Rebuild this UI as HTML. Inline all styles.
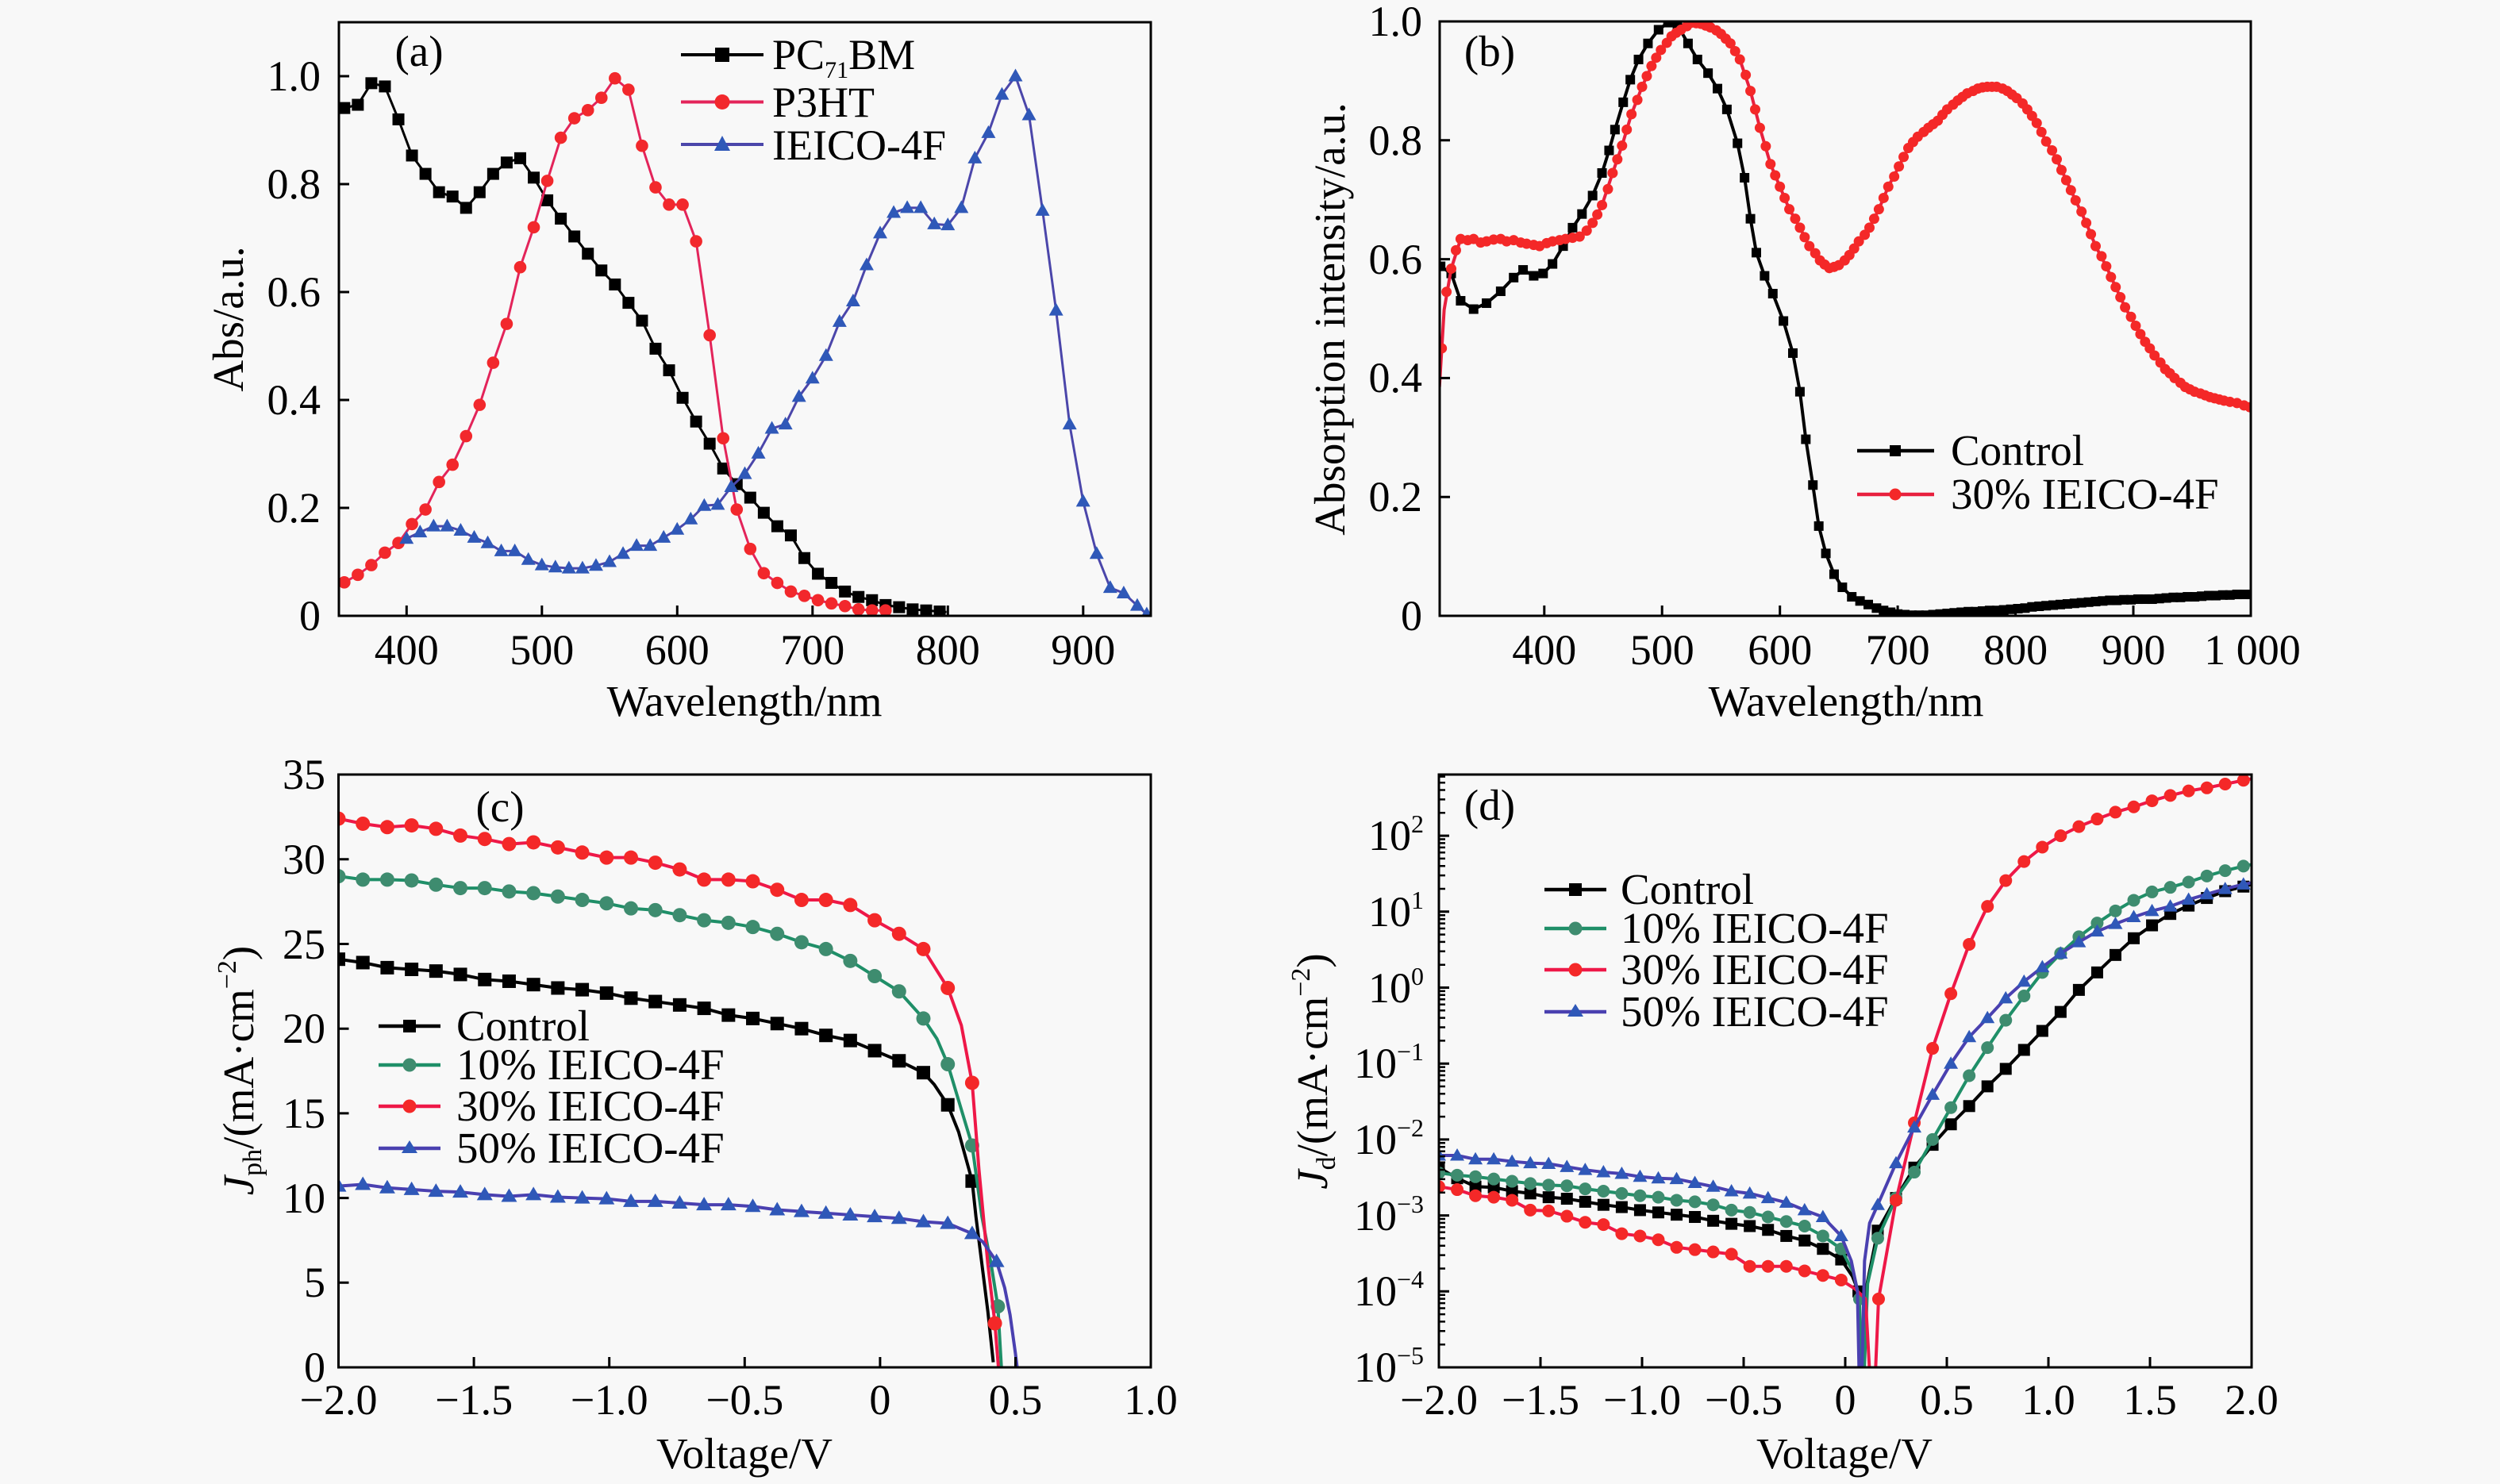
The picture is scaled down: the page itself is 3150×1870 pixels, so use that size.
<!DOCTYPE html>
<html><head><meta charset="utf-8">
<style>
html,body{margin:0;padding:0;background:#f8f8f8}
svg{display:block}
text{font-family:"Liberation Serif","Times New Roman",serif;fill:#000}
</style></head>
<body>
<svg xmlns="http://www.w3.org/2000/svg" width="3150" height="1870" viewBox="0 0 3150 1870">
<rect x="0" y="0" width="3150" height="1870" fill="#f8f8f8"/>
<defs>
  <marker id="aSq" viewBox="-10 -10 20 20" markerWidth="11.7302" markerHeight="0.0294118" refX="0" refY="0" markerUnits="userSpaceOnUse" preserveAspectRatio="none" overflow="visible"><rect x="-7.5" y="-7.5" width="15" height="15" fill="#000"/></marker>
  <marker id="aCi" viewBox="-10 -10 20 20" markerWidth="11.7302" markerHeight="0.0294118" refX="0" refY="0" markerUnits="userSpaceOnUse" preserveAspectRatio="none" overflow="visible"><circle r="7.8" fill="#f2282c"/></marker>
  <marker id="aTr" viewBox="-10 -10 20 20" markerWidth="11.7302" markerHeight="0.0294118" refX="0" refY="0" markerUnits="userSpaceOnUse" preserveAspectRatio="none" overflow="visible"><polygon points="0,9.5 -9,-6.5 9,-6.5" fill="#2f58b8"/></marker>
  <marker id="bSq" viewBox="-8 -8 16 16" markerWidth="10.77877" markerHeight="0.0213618" refX="0" refY="0" markerUnits="userSpaceOnUse" preserveAspectRatio="none" overflow="visible"><rect x="-6" y="-6" width="12" height="12" fill="#000"/></marker>
  <marker id="bCi" viewBox="-8 -8 16 16" markerWidth="10.77877" markerHeight="0.0213618" refX="0" refY="0" markerUnits="userSpaceOnUse" preserveAspectRatio="none" overflow="visible"><circle r="6.5" fill="#f42828"/></marker>
  <marker id="cSq" viewBox="-11 -11 22 22" markerWidth="0.0644783" markerHeight="1.0309278" refX="0" refY="0" markerUnits="userSpaceOnUse" preserveAspectRatio="none" overflow="visible"><rect x="-8.5" y="-8.5" width="17" height="17" fill="#000"/></marker>
  <marker id="cG" viewBox="-11 -11 22 22" markerWidth="0.0644783" markerHeight="1.0309278" refX="0" refY="0" markerUnits="userSpaceOnUse" preserveAspectRatio="none" overflow="visible"><circle r="9" fill="#3e8c6f"/></marker>
  <marker id="cR" viewBox="-11 -11 22 22" markerWidth="0.0644783" markerHeight="1.0309278" refX="0" refY="0" markerUnits="userSpaceOnUse" preserveAspectRatio="none" overflow="visible"><circle r="9" fill="#f42828"/></marker>
  <marker id="cTr" viewBox="-11 -11 22 22" markerWidth="0.0644783" markerHeight="1.0309278" refX="0" refY="0" markerUnits="userSpaceOnUse" preserveAspectRatio="none" overflow="visible"><polygon points="0,10 -10,-7 10,-7" fill="#2f58b8"/></marker>
  <marker id="dSq" viewBox="-10 -10 20 20" markerWidth="0.078125" markerHeight="0.2089864" refX="0" refY="0" markerUnits="userSpaceOnUse" preserveAspectRatio="none" overflow="visible"><rect x="-7.5" y="-7.5" width="15" height="15" fill="#000"/></marker>
  <marker id="dG" viewBox="-10 -10 20 20" markerWidth="0.078125" markerHeight="0.2089864" refX="0" refY="0" markerUnits="userSpaceOnUse" preserveAspectRatio="none" overflow="visible"><circle r="8" fill="#3e8c6f"/></marker>
  <marker id="dR" viewBox="-10 -10 20 20" markerWidth="0.078125" markerHeight="0.2089864" refX="0" refY="0" markerUnits="userSpaceOnUse" preserveAspectRatio="none" overflow="visible"><circle r="8" fill="#f42828"/></marker>
  <marker id="dTr" viewBox="-10 -10 20 20" markerWidth="0.078125" markerHeight="0.2089864" refX="0" refY="0" markerUnits="userSpaceOnUse" preserveAspectRatio="none" overflow="visible"><polygon points="0,9 -9,-6.5 9,-6.5" fill="#2f58b8"/></marker>

  <clipPath id="clipA"><rect x="427" y="28" width="1023" height="748"/></clipPath>
  <clipPath id="clipB"><rect x="1814" y="27" width="1022" height="749"/></clipPath>
  <clipPath id="clipC"><rect x="426.5" y="976" width="1023.5" height="747"/></clipPath>
  <clipPath id="clipD"><rect x="1813" y="976" width="1024" height="747"/></clipPath>

  <path id="minor" d="M0,-28.8h8M0,-45.7h8M0,-57.6h8M0,-66.9h8M0,-74.5h8M0,-80.9h8M0,-86.4h8M0,-91.3h8" stroke="#000" stroke-width="2.5" fill="none"/>
</defs>

<!-- ================= PANEL A ================= -->
<g clip-path="url(#clipA)">
 <g transform="translate(427,776) scale(1.705,-680) translate(-350,0)">
  <polyline vector-effect="non-scaling-stroke" fill="none" stroke="#000" stroke-width="3" stroke-linejoin="round"
   points="350,0.94 354,0.941 364,0.947 374,0.987 384,0.981 394,0.92 404,0.853 414,0.819 424,0.785 434,0.777 444,0.756 454,0.785 464,0.819 474,0.84 484,0.848 494,0.812 504,0.77 514,0.736 524,0.703 534,0.671 544,0.64 554,0.614 564,0.58 574,0.547 584,0.495 594,0.455 604,0.404 614,0.36 624,0.319 634,0.273 644,0.244 654,0.219 664,0.191 674,0.166 684,0.149 694,0.107 704,0.078 714,0.061 724,0.045 734,0.035 744,0.029 754,0.02 764,0.016 774,0.012 784,0.01 794,0.008 799,0.007"/>
  <polyline fill="none" stroke="none" marker-start="url(#aSq)" marker-mid="url(#aSq)" marker-end="url(#aSq)"
   points="354,0.941 364,0.947 374,0.987 384,0.981 394,0.92 404,0.853 414,0.819 424,0.785 434,0.777 444,0.756 454,0.785 464,0.819 474,0.84 484,0.848 494,0.812 504,0.77 514,0.736 524,0.703 534,0.671 544,0.64 554,0.614 564,0.58 574,0.547 584,0.495 594,0.455 604,0.404 614,0.36 624,0.319 634,0.273 644,0.244 654,0.219 664,0.191 674,0.166 684,0.149 694,0.107 704,0.078 714,0.061 724,0.045 734,0.035 744,0.029 754,0.02 764,0.016 774,0.012 784,0.01 794,0.008"/>

  <polyline vector-effect="non-scaling-stroke" fill="none" stroke="#e3245a" stroke-width="3" stroke-linejoin="round"
   points="354,0.062 364,0.076 374,0.094 384,0.117 394,0.135 404,0.17 414,0.197 424,0.248 434,0.28 444,0.333 454,0.391 464,0.469 474,0.541 484,0.646 494,0.72 504,0.806 514,0.886 524,0.922 534,0.937 544,0.96 554,0.996 564,0.975 574,0.871 584,0.794 594,0.762 604,0.762 614,0.694 624,0.52 634,0.329 644,0.197 654,0.124 664,0.079 674,0.061 684,0.045 694,0.037 704,0.029 714,0.023 724,0.018 734,0.012 744,0.01 754,0.01"/>
  <polyline fill="none" stroke="none" marker-start="url(#aCi)" marker-mid="url(#aCi)" marker-end="url(#aCi)"
   points="354,0.062 364,0.076 374,0.094 384,0.117 394,0.135 404,0.17 414,0.197 424,0.248 434,0.28 444,0.333 454,0.391 464,0.469 474,0.541 484,0.646 494,0.72 504,0.806 514,0.886 524,0.922 534,0.937 544,0.96 554,0.996 564,0.975 574,0.871 584,0.794 594,0.762 604,0.762 614,0.694 624,0.52 634,0.329 644,0.197 654,0.124 664,0.079 674,0.061 684,0.045 694,0.037 704,0.029 714,0.023 724,0.018 734,0.012 744,0.01 754,0.01"/>

  <polyline vector-effect="non-scaling-stroke" fill="none" stroke="#4b46aa" stroke-width="3" stroke-linejoin="round"
   points="400,0.143 410,0.155 420,0.166 430,0.166 440,0.158 450,0.145 460,0.135 470,0.12 480,0.12 490,0.104 500,0.094 510,0.09 520,0.088 530,0.088 540,0.093 550,0.1 560,0.115 570,0.13 580,0.13 590,0.145 600,0.16 610,0.179 620,0.204 630,0.206 640,0.239 650,0.263 660,0.301 670,0.347 680,0.355 690,0.406 700,0.44 710,0.482 720,0.545 730,0.583 740,0.65 750,0.709 760,0.747 770,0.756 780,0.756 790,0.726 800,0.724 810,0.756 820,0.848 830,0.895 840,0.966 850,1.0 860,0.928 870,0.751 880,0.566 890,0.355 900,0.212 910,0.115 920,0.052 930,0.042 940,0.019 947,0.003"/>
  <polyline fill="none" stroke="none" marker-start="url(#aTr)" marker-mid="url(#aTr)" marker-end="url(#aTr)"
   points="400,0.143 410,0.155 420,0.166 430,0.166 440,0.158 450,0.145 460,0.135 470,0.12 480,0.12 490,0.104 500,0.094 510,0.09 520,0.088 530,0.088 540,0.093 550,0.1 560,0.115 570,0.13 580,0.13 590,0.145 600,0.16 610,0.179 620,0.204 630,0.206 640,0.239 650,0.263 660,0.301 670,0.347 680,0.355 690,0.406 700,0.44 710,0.482 720,0.545 730,0.583 740,0.65 750,0.709 760,0.747 770,0.756 780,0.756 790,0.726 800,0.724 810,0.756 820,0.848 830,0.895 840,0.966 850,1.0 860,0.928 870,0.751 880,0.566 890,0.355 900,0.212 910,0.115 920,0.052 930,0.042 940,0.019 947,0.003"/>
 </g>
</g>
<rect x="427" y="28" width="1023" height="748" fill="none" stroke="#000" stroke-width="3"/>
<path d="M427,640h13M427,504h13M427,368h13M427,232h13M427,96h13M512.3,776v-13M682.8,776v-13M853.3,776v-13M1023.8,776v-13M1194.3,776v-13M1364.8,776v-13" stroke="#000" stroke-width="3" fill="none"/>
<g font-size="54" text-anchor="end">
 <text x="404" y="794">0</text><text x="404" y="658">0.2</text><text x="404" y="522">0.4</text><text x="404" y="386">0.6</text><text x="404" y="250">0.8</text><text x="404" y="114">1.0</text>
</g>
<g font-size="54" text-anchor="middle">
 <text x="512.3" y="837">400</text><text x="682.8" y="837">500</text><text x="853.3" y="837">600</text><text x="1023.8" y="837">700</text><text x="1194.3" y="837">800</text><text x="1364.8" y="837">900</text>
</g>
<text x="938" y="902" font-size="55" text-anchor="middle">Wavelength/nm</text>
<text transform="translate(306,402) rotate(-90)" font-size="55" text-anchor="middle">Abs/a.u.</text>
<text x="528" y="83" font-size="55" text-anchor="middle">(a)</text>
<line x1="858" y1="69" x2="962" y2="69" stroke="#000" stroke-width="4"/>
<rect x="901" y="60" width="18" height="18" fill="#000"/>
<line x1="858" y1="128.5" x2="962" y2="128.5" stroke="#e3245a" stroke-width="4"/>
<circle cx="910" cy="128.5" r="9.5" fill="#f2282c"/>
<line x1="858" y1="182" x2="962" y2="182" stroke="#4b46aa" stroke-width="4"/>
<polygon points="910,171 920,190 900,190" fill="#2f58b8"/>
<text x="973" y="87" font-size="54">PC<tspan font-size="30" dy="11">71</tspan><tspan dy="-11">BM</tspan></text>
<text x="973" y="147" font-size="54">P3HT</text>
<text x="973" y="201" font-size="54">IEICO-4F</text>

<!-- ================= PANEL B ================= -->
<g clip-path="url(#clipB)">
 <g transform="translate(1945.8,776) scale(1.4844,-749) translate(-400,0)">
  <polyline vector-effect="non-scaling-stroke" fill="none" stroke="#000" stroke-width="4" stroke-linejoin="round"
   points="311,0.59 312,0.588 321,0.576 329,0.53 340,0.516 351,0.526 363,0.546 374,0.569 382,0.582 391,0.572 399,0.576 407,0.592 416,0.622 424,0.653 432,0.676 441,0.707 449,0.745 455,0.783 460,0.818 467,0.864 473,0.902 480,0.936 488,0.963 497,0.986 505,0.998 513,0.994 522,0.963 530,0.936 539,0.913 547,0.887 555,0.852 564,0.795 570,0.737 575,0.668 580,0.611 587,0.572 594,0.542 603,0.496 611,0.442 617,0.377 622,0.297 628,0.22 633,0.151 639,0.105 646,0.07 653,0.048 661,0.032 668,0.025 675,0.019 682,0.013 688,0.009 694,0.006 700,0.003 706,0.002 712,0.001 718,0.001 724,0.001 730,0.002 736,0.003 742,0.004 748,0.005 754,0.006 760,0.007 766,0.007 772,0.008 778,0.009 784,0.009 790,0.01 796,0.011 802,0.012 808,0.013 814,0.015 820,0.016 826,0.017 832,0.018 838,0.019 844,0.02 850,0.021 856,0.022 862,0.023 868,0.024 874,0.025 880,0.026 886,0.026 892,0.027 898,0.027 904,0.028 910,0.028 916,0.028 922,0.029 928,0.03 934,0.031 940,0.031 946,0.032 952,0.032 958,0.033 964,0.034 970,0.034 976,0.035 982,0.035 988,0.036 994,0.036 1000,0.036"/>
  <polyline fill="none" stroke="none" marker-start="url(#bSq)" marker-mid="url(#bSq)" marker-end="url(#bSq)"
   points="312,0.588 321,0.576 329,0.53 340,0.516 351,0.526 363,0.546 374,0.569 382,0.582 391,0.572 399,0.576 407,0.592 416,0.622 424,0.653 432,0.676 441,0.707 449,0.745 455,0.783 460,0.818 467,0.864 473,0.902 480,0.936 488,0.963 497,0.986 505,0.998 513,0.994 522,0.963 530,0.936 539,0.913 547,0.887 555,0.852 564,0.795 570,0.737 575,0.668 580,0.611 587,0.572 594,0.542 603,0.496 611,0.442 617,0.377 622,0.297 628,0.22 633,0.151 639,0.105 646,0.07 653,0.048 661,0.032 668,0.025 675,0.019 682,0.013 688,0.009 694,0.006 700,0.003 706,0.002 712,0.001 718,0.001 724,0.001 730,0.002 736,0.003 742,0.004 748,0.005 754,0.006 760,0.007 766,0.007 772,0.008 778,0.009 784,0.009 790,0.01 796,0.011 802,0.012 808,0.013 814,0.015 820,0.016 826,0.017 832,0.018 838,0.019 844,0.02 850,0.021 856,0.022 862,0.023 868,0.024 874,0.025 880,0.026 886,0.026 892,0.027 898,0.027 904,0.028 910,0.028 916,0.028 922,0.029 928,0.03 934,0.031 940,0.031 946,0.032 952,0.032 958,0.033 964,0.034 970,0.034 976,0.035 982,0.035 988,0.036 994,0.036 1000,0.036"/>

  <polyline vector-effect="non-scaling-stroke" fill="none" stroke="#e8203e" stroke-width="4" stroke-linejoin="round"
   points="311,0.385 315,0.515 321,0.584 329,0.634 340,0.634 351,0.63 363,0.634 374,0.632 385,0.626 396,0.622 407,0.63 418,0.634 430,0.638 441,0.661 449,0.691 458,0.745 466,0.791 474,0.844 483,0.89 491,0.925 499,0.952 508,0.975 516,0.986 525,0.998 533,0.996 541,0.99 550,0.979 558,0.963 566,0.936 575,0.883 583,0.821 592,0.76 600,0.722 608,0.684 617,0.653 625,0.622 634,0.598 642,0.585 650,0.59 659,0.607 667,0.63 676,0.653 684,0.684 692,0.722 701,0.756 709,0.787 717,0.806 726,0.821 734,0.833 742,0.852 751,0.867 759,0.879 768,0.887 776,0.89 784,0.89 793,0.883 801,0.871 810,0.852 818,0.829 826,0.798 835,0.768 843,0.733 851,0.699 860,0.661 868,0.622 877,0.588 885,0.553 893,0.519 902,0.488 910,0.461 918,0.438 927,0.415 935,0.4 944,0.385 952,0.377 961,0.371 969,0.366 977,0.362 988,0.358 1000,0.35"/>
  <polyline fill="none" stroke="none" marker-start="url(#bCi)" marker-mid="url(#bCi)" marker-end="url(#bCi)"
   points="313,0.45 317,0.545 321,0.584 325,0.615 329,0.634 335,0.632 340,0.634 346,0.628 351,0.63 357,0.633 363,0.634 368,0.63 374,0.632 380,0.628 385,0.626 391,0.624 396,0.622 402,0.627 407,0.63 413,0.632 418,0.634 424,0.636 430,0.638 436,0.648 441,0.661 445,0.675 449,0.691 454,0.718 458,0.745 462,0.768 466,0.791 470,0.818 474,0.844 479,0.868 483,0.89 487,0.908 491,0.925 495,0.939 499,0.952 504,0.964 508,0.975 512,0.981 516,0.986 521,0.992 525,0.998 529,0.997 533,0.996 537,0.993 541,0.99 546,0.985 550,0.979 554,0.971 558,0.963 562,0.95 566,0.936 571,0.91 575,0.883 579,0.852 583,0.821 588,0.79 592,0.76 596,0.741 600,0.722 604,0.703 608,0.684 613,0.668 617,0.653 621,0.637 625,0.622 630,0.61 634,0.598 638,0.591 642,0.585 646,0.587 650,0.59 655,0.598 659,0.607 663,0.618 667,0.63 672,0.641 676,0.653 680,0.668 684,0.684 688,0.703 692,0.722 697,0.739 701,0.756 705,0.772 709,0.787 713,0.797 717,0.806 722,0.814 726,0.821 730,0.827 734,0.833 738,0.843 742,0.852 747,0.86 751,0.867 755,0.873 759,0.879 764,0.883 768,0.887 772,0.889 776,0.89 780,0.89 784,0.89 789,0.887 793,0.883 797,0.877 801,0.871 806,0.862 810,0.852 814,0.841 818,0.829 822,0.814 826,0.798 831,0.783 835,0.768 839,0.75 843,0.733 847,0.716 851,0.699 856,0.68 860,0.661 864,0.642 868,0.622 873,0.605 877,0.588 881,0.57 885,0.553 889,0.536 893,0.519 898,0.503 902,0.488 906,0.474 910,0.461 914,0.45 918,0.438 923,0.426 927,0.415 931,0.408 935,0.4 940,0.392 944,0.385 948,0.381 952,0.377 957,0.374 961,0.371 965,0.368 969,0.366 973,0.364 977,0.362 982,0.36 988,0.358 994,0.354 999,0.351"/>
 </g>
</g>
<rect x="1814" y="27" width="1022" height="749" fill="none" stroke="#000" stroke-width="3"/>
<path d="M1814,626.2h13M1814,476.4h13M1814,326.6h13M1814,176.8h13M1945.8,776v-13M2094.2,776v-13M2242.7,776v-13M2391.1,776v-13M2539.6,776v-13M2688,776v-13" stroke="#000" stroke-width="3" fill="none"/>
<g font-size="54" text-anchor="end">
 <text x="1792" y="794">0</text><text x="1792" y="644">0.2</text><text x="1792" y="494">0.4</text><text x="1792" y="345">0.6</text><text x="1792" y="195">0.8</text><text x="1792" y="45">1.0</text>
</g>
<g font-size="54" text-anchor="middle">
 <text x="1945.8" y="837">400</text><text x="2094.2" y="837">500</text><text x="2242.7" y="837">600</text><text x="2391.1" y="837">700</text><text x="2539.6" y="837">800</text><text x="2688" y="837">900</text><text x="2838" y="837">1 000</text>
</g>
<text x="2326" y="902" font-size="55" text-anchor="middle">Wavelength/nm</text>
<text transform="translate(1694,402) rotate(-90)" font-size="55" text-anchor="middle">Absorption intensity/a.u.</text>
<text x="1877" y="83" font-size="55" text-anchor="middle">(b)</text>
<line x1="2340" y1="568" x2="2437" y2="568" stroke="#000" stroke-width="4.5"/>
<rect x="2381" y="561" width="14" height="14" fill="#000"/>
<line x1="2340" y1="623" x2="2437" y2="623" stroke="#e8203e" stroke-width="4.5"/>
<circle cx="2388" cy="623" r="7.5" fill="#f42828"/>
<text x="2458" y="586" font-size="55">Control</text>
<text x="2458" y="641" font-size="55">30% IEICO-4F</text>

<!-- ================= PANEL C ================= -->
<g clip-path="url(#clipC)">
 <g transform="translate(426.5,1723) scale(341.2,-21.34) translate(2,0)">
  <polyline vector-effect="non-scaling-stroke" fill="none" stroke="#000" stroke-width="4" stroke-linejoin="round"
   points="-2,24.1 -1.91,23.9 -1.82,23.6 -1.73,23.5 -1.64,23.4 -1.55,23.2 -1.46,22.9 -1.37,22.8 -1.28,22.6 -1.19,22.4 -1.1,22.3 -1.01,22.1 -0.92,21.8 -0.83,21.6 -0.74,21.4 -0.65,21.2 -0.56,20.8 -0.47,20.6 -0.38,20.3 -0.29,20 -0.2,19.6 -0.11,19.3 -0.02,18.7 0.07,18.1 0.16,17.4 0.2,16.7 0.25,15.5 0.29,13.9 0.34,11 0.354,8.9 0.376,6.1 0.398,3.3 0.418,0.3"/>
  <polyline fill="none" stroke="none" marker-start="url(#cSq)" marker-mid="url(#cSq)" marker-end="url(#cSq)"
   points="-2,24.1 -1.91,23.9 -1.82,23.6 -1.73,23.5 -1.64,23.4 -1.55,23.2 -1.46,22.9 -1.37,22.8 -1.28,22.6 -1.19,22.4 -1.1,22.3 -1.01,22.1 -0.92,21.8 -0.83,21.6 -0.74,21.4 -0.65,21.2 -0.56,20.8 -0.47,20.6 -0.38,20.3 -0.29,20 -0.2,19.6 -0.11,19.3 -0.02,18.7 0.07,18.1 0.16,17.4 0.25,15.5 0.34,11"/>

  <polyline vector-effect="non-scaling-stroke" fill="none" stroke="#1f8f68" stroke-width="4" stroke-linejoin="round"
   points="-2,29 -1.91,28.8 -1.82,28.8 -1.73,28.75 -1.64,28.5 -1.55,28.3 -1.46,28.3 -1.37,28.1 -1.28,28 -1.19,27.8 -1.1,27.6 -1.01,27.4 -0.92,27.1 -0.83,27 -0.74,26.7 -0.65,26.4 -0.56,26.25 -0.47,26 -0.38,25.6 -0.29,25.1 -0.2,24.7 -0.11,24 -0.02,23.1 0.07,22.2 0.16,20.6 0.21,19.4 0.25,17.9 0.293,15.6 0.34,13.1 0.376,8.9 0.41,6.1 0.435,3.6 0.448,0 0.452,-0.5"/>
  <polyline fill="none" stroke="none" marker-start="url(#cG)" marker-mid="url(#cG)" marker-end="url(#cG)"
   points="-2,29 -1.91,28.8 -1.82,28.8 -1.73,28.75 -1.64,28.5 -1.55,28.3 -1.46,28.3 -1.37,28.1 -1.28,28 -1.19,27.8 -1.1,27.6 -1.01,27.4 -0.92,27.1 -0.83,27 -0.74,26.7 -0.65,26.4 -0.56,26.25 -0.47,26 -0.38,25.6 -0.29,25.1 -0.2,24.7 -0.11,24 -0.02,23.1 0.07,22.2 0.16,20.6 0.25,17.9 0.34,13.1 0.435,3.6"/>

  <polyline vector-effect="non-scaling-stroke" fill="none" stroke="#ee1848" stroke-width="4" stroke-linejoin="round"
   points="-2,32.4 -1.91,32.1 -1.82,31.9 -1.73,32 -1.64,31.8 -1.55,31.4 -1.46,31.2 -1.37,30.9 -1.28,31 -1.19,30.7 -1.1,30.4 -1.01,30.1 -0.92,30.1 -0.83,29.8 -0.74,29.4 -0.65,28.8 -0.56,28.8 -0.47,28.7 -0.38,28.2 -0.29,27.6 -0.2,27.6 -0.11,27.3 -0.02,26.4 0.07,25.6 0.16,24.7 0.25,22.4 0.3,20.2 0.34,16.8 0.365,11.7 0.398,6.1 0.424,2.6 0.437,0 0.44,-0.5"/>
  <polyline fill="none" stroke="none" marker-start="url(#cR)" marker-mid="url(#cR)" marker-end="url(#cR)"
   points="-2,32.4 -1.91,32.1 -1.82,31.9 -1.73,32 -1.64,31.8 -1.55,31.4 -1.46,31.2 -1.37,30.9 -1.28,31 -1.19,30.7 -1.1,30.4 -1.01,30.1 -0.92,30.1 -0.83,29.8 -0.74,29.4 -0.65,28.8 -0.56,28.8 -0.47,28.7 -0.38,28.2 -0.29,27.6 -0.2,27.6 -0.11,27.3 -0.02,26.4 0.07,25.6 0.16,24.7 0.25,22.4 0.34,16.8 0.424,2.6"/>

  <polyline vector-effect="non-scaling-stroke" fill="none" stroke="#4a40b0" stroke-width="4" stroke-linejoin="round"
   points="-2,10.7 -1.91,10.8 -1.82,10.6 -1.73,10.5 -1.64,10.4 -1.55,10.35 -1.46,10.2 -1.37,10.1 -1.28,10.2 -1.19,10.05 -1.1,10 -1.01,9.95 -0.92,9.8 -0.83,9.8 -0.74,9.7 -0.65,9.6 -0.56,9.6 -0.47,9.5 -0.38,9.3 -0.29,9.2 -0.2,9.1 -0.11,9 -0.02,8.9 0.07,8.8 0.16,8.6 0.25,8.5 0.34,7.9 0.38,7.4 0.43,6.25 0.46,4.7 0.48,3.1 0.5,0.8 0.51,-0.5"/>
  <polyline fill="none" stroke="none" marker-start="url(#cTr)" marker-mid="url(#cTr)" marker-end="url(#cTr)"
   points="-2,10.7 -1.91,10.8 -1.82,10.6 -1.73,10.5 -1.64,10.4 -1.55,10.35 -1.46,10.2 -1.37,10.1 -1.28,10.2 -1.19,10.05 -1.1,10 -1.01,9.95 -0.92,9.8 -0.83,9.8 -0.74,9.7 -0.65,9.6 -0.56,9.6 -0.47,9.5 -0.38,9.3 -0.29,9.2 -0.2,9.1 -0.11,9 -0.02,8.9 0.07,8.8 0.16,8.6 0.25,8.5 0.34,7.9 0.43,6.25"/>
 </g>
</g>
<rect x="426.5" y="976" width="1023.5" height="747" fill="none" stroke="#000" stroke-width="3"/>
<path d="M426.5,1616.3h13M426.5,1509.6h13M426.5,1402.9h13M426.5,1296.2h13M426.5,1189.5h13M426.5,1082.8h13M597.1,1723v-13M767.7,1723v-13M938.3,1723v-13M1108.9,1723v-13M1279.5,1723v-13" stroke="#000" stroke-width="3" fill="none"/>
<g font-size="54" text-anchor="end">
 <text x="410" y="1741">0</text><text x="410" y="1634">5</text><text x="410" y="1528">10</text><text x="410" y="1421">15</text><text x="410" y="1314">20</text><text x="410" y="1208">25</text><text x="410" y="1101">30</text><text x="410" y="994">35</text>
</g>
<g font-size="54" text-anchor="middle">
 <text x="426.5" y="1782">−2.0</text><text x="597.1" y="1782">−1.5</text><text x="767.7" y="1782">−1.0</text><text x="938.3" y="1782">−0.5</text><text x="1108.9" y="1782">0</text><text x="1279.5" y="1782">0.5</text><text x="1450" y="1782">1.0</text>
</g>
<text x="938" y="1850" font-size="55" text-anchor="middle">Voltage/V</text>
<text transform="translate(319,1349) rotate(-90)" font-size="55" text-anchor="middle"><tspan font-style="italic">J</tspan><tspan font-size="34" dy="10">ph</tspan><tspan dy="-10">/(mA·cm</tspan><tspan font-size="34" dy="-22">−2</tspan><tspan dy="22">)</tspan></text>
<text x="630" y="1035" font-size="55" text-anchor="middle">(c)</text>
<line x1="477" y1="1293" x2="555" y2="1293" stroke="#000" stroke-width="4.5"/>
<rect x="508" y="1285" width="16" height="16" fill="#000"/>
<line x1="477" y1="1342" x2="555" y2="1342" stroke="#1f8f68" stroke-width="4.5"/>
<circle cx="516" cy="1342" r="8.5" fill="#3e8c6f"/>
<line x1="477" y1="1394" x2="555" y2="1394" stroke="#ee1848" stroke-width="4.5"/>
<circle cx="516" cy="1394" r="8.5" fill="#f42828"/>
<line x1="477" y1="1447" x2="555" y2="1447" stroke="#4a40b0" stroke-width="4.5"/>
<polygon points="516,1437 526,1453 506,1453" fill="#2f58b8"/>
<g font-size="55">
 <text x="575" y="1311">Control</text>
 <text x="575" y="1360">10% IEICO-4F</text>
 <text x="575" y="1412">30% IEICO-4F</text>
 <text x="575" y="1465">50% IEICO-4F</text>
</g>

<!-- ================= PANEL D ================= -->
<g clip-path="url(#clipD)">
 <g transform="translate(1813,1723) scale(256,-95.7) translate(2,5)">
  <polyline vector-effect="non-scaling-stroke" fill="none" stroke="#000" stroke-width="4" stroke-linejoin="round"
   points="-2,-2.37 -1.91,-2.51 -1.82,-2.62 -1.73,-2.63 -1.64,-2.68 -1.55,-2.71 -1.46,-2.76 -1.37,-2.78 -1.28,-2.82 -1.19,-2.86 -1.1,-2.89 -1.01,-2.93 -0.92,-2.96 -0.83,-2.99 -0.74,-3.02 -0.65,-3.07 -0.56,-3.11 -0.47,-3.14 -0.38,-3.19 -0.29,-3.27 -0.2,-3.33 -0.11,-3.44 -0.02,-3.58 0.035,-3.8 0.065,-4.0 0.075,-5.3 0.085,-5.3 0.1,-4.0 0.16,-3.2 0.25,-2.77 0.34,-2.37 0.43,-2.07 0.52,-1.8 0.61,-1.56 0.7,-1.3 0.79,-1.07 0.88,-0.82 0.97,-0.57 1.06,-0.32 1.15,-0.03 1.24,0.2 1.33,0.43 1.42,0.65 1.51,0.82 1.6,0.97 1.69,1.08 1.78,1.18 1.87,1.27 1.96,1.33 2,1.36"/>
  <polyline fill="none" stroke="none" marker-start="url(#dSq)" marker-mid="url(#dSq)" marker-end="url(#dSq)"
   points="-2,-2.37 -1.91,-2.51 -1.82,-2.62 -1.73,-2.63 -1.64,-2.68 -1.55,-2.71 -1.46,-2.76 -1.37,-2.78 -1.28,-2.82 -1.19,-2.86 -1.1,-2.89 -1.01,-2.93 -0.92,-2.96 -0.83,-2.99 -0.74,-3.02 -0.65,-3.07 -0.56,-3.11 -0.47,-3.14 -0.38,-3.19 -0.29,-3.27 -0.2,-3.33 -0.11,-3.44 -0.02,-3.58 0.065,-4.0 0.16,-3.2 0.25,-2.77 0.34,-2.37 0.43,-2.07 0.52,-1.8 0.61,-1.56 0.7,-1.3 0.79,-1.07 0.88,-0.82 0.97,-0.57 1.06,-0.32 1.15,-0.03 1.24,0.2 1.33,0.43 1.42,0.65 1.51,0.82 1.6,0.97 1.69,1.08 1.78,1.18 1.87,1.27 1.96,1.33"/>

  <polyline vector-effect="non-scaling-stroke" fill="none" stroke="#1f8f68" stroke-width="4" stroke-linejoin="round"
   points="-2,-2.44 -1.91,-2.47 -1.82,-2.49 -1.73,-2.52 -1.64,-2.55 -1.55,-2.58 -1.46,-2.6 -1.37,-2.61 -1.28,-2.65 -1.19,-2.68 -1.1,-2.71 -1.01,-2.74 -0.92,-2.76 -0.83,-2.8 -0.74,-2.82 -0.65,-2.86 -0.56,-2.93 -0.47,-2.96 -0.38,-3.02 -0.29,-3.08 -0.2,-3.14 -0.11,-3.27 -0.02,-3.44 0.04,-3.75 0.07,-4.1 0.08,-5.3 0.09,-5.3 0.11,-3.9 0.16,-3.3 0.25,-2.77 0.34,-2.43 0.43,-2.0 0.52,-1.58 0.61,-1.16 0.7,-0.79 0.79,-0.43 0.88,-0.11 0.97,0.2 1.06,0.45 1.15,0.67 1.24,0.85 1.33,1.01 1.42,1.15 1.51,1.26 1.6,1.32 1.69,1.39 1.78,1.47 1.87,1.54 1.96,1.6 2,1.62"/>
  <polyline fill="none" stroke="none" marker-start="url(#dG)" marker-mid="url(#dG)" marker-end="url(#dG)"
   points="-2,-2.44 -1.91,-2.47 -1.82,-2.49 -1.73,-2.52 -1.64,-2.55 -1.55,-2.58 -1.46,-2.6 -1.37,-2.61 -1.28,-2.65 -1.19,-2.68 -1.1,-2.71 -1.01,-2.74 -0.92,-2.76 -0.83,-2.8 -0.74,-2.82 -0.65,-2.86 -0.56,-2.93 -0.47,-2.96 -0.38,-3.02 -0.29,-3.08 -0.2,-3.14 -0.11,-3.27 -0.02,-3.44 0.07,-4.1 0.16,-3.3 0.25,-2.77 0.34,-2.43 0.43,-2.0 0.52,-1.58 0.61,-1.16 0.7,-0.79 0.79,-0.43 0.88,-0.11 0.97,0.2 1.06,0.45 1.15,0.67 1.24,0.85 1.33,1.01 1.42,1.15 1.51,1.26 1.6,1.32 1.69,1.39 1.78,1.47 1.87,1.54 1.96,1.6"/>

  <polyline vector-effect="non-scaling-stroke" fill="none" stroke="#ee1848" stroke-width="4" stroke-linejoin="round"
   points="-2,-2.62 -1.91,-2.66 -1.82,-2.74 -1.73,-2.76 -1.64,-2.8 -1.55,-2.93 -1.46,-2.94 -1.37,-3.01 -1.28,-3.09 -1.19,-3.12 -1.1,-3.24 -1.01,-3.27 -0.92,-3.32 -0.83,-3.42 -0.74,-3.45 -0.65,-3.48 -0.56,-3.51 -0.47,-3.67 -0.38,-3.67 -0.29,-3.67 -0.2,-3.73 -0.11,-3.79 -0.02,-3.85 0.05,-3.97 0.1,-4.1 0.125,-5.3 0.145,-5.3 0.164,-4.1 0.25,-2.8 0.34,-1.78 0.43,-0.8 0.52,-0.08 0.61,0.57 0.7,1.07 0.79,1.41 0.88,1.66 0.97,1.85 1.06,2.0 1.15,2.12 1.24,2.22 1.33,2.31 1.42,2.38 1.51,2.46 1.6,2.53 1.69,2.59 1.78,2.63 1.87,2.68 1.96,2.73 2,2.75"/>
  <polyline fill="none" stroke="none" marker-start="url(#dR)" marker-mid="url(#dR)" marker-end="url(#dR)"
   points="-2,-2.62 -1.91,-2.66 -1.82,-2.74 -1.73,-2.76 -1.64,-2.8 -1.55,-2.93 -1.46,-2.94 -1.37,-3.01 -1.28,-3.09 -1.19,-3.12 -1.1,-3.24 -1.01,-3.27 -0.92,-3.32 -0.83,-3.42 -0.74,-3.45 -0.65,-3.48 -0.56,-3.51 -0.47,-3.67 -0.38,-3.67 -0.29,-3.67 -0.2,-3.73 -0.11,-3.79 -0.02,-3.85 0.164,-4.1 0.25,-2.8 0.34,-1.78 0.43,-0.8 0.52,-0.08 0.61,0.57 0.7,1.07 0.79,1.41 0.88,1.66 0.97,1.85 1.06,2.0 1.15,2.12 1.24,2.22 1.33,2.31 1.42,2.38 1.51,2.46 1.6,2.53 1.69,2.59 1.78,2.63 1.87,2.68 1.96,2.73"/>

  <polyline vector-effect="non-scaling-stroke" fill="none" stroke="#4a40b0" stroke-width="4" stroke-linejoin="round"
   points="-2,-2.21 -1.91,-2.21 -1.82,-2.26 -1.73,-2.26 -1.64,-2.29 -1.55,-2.31 -1.46,-2.32 -1.37,-2.36 -1.28,-2.4 -1.19,-2.43 -1.1,-2.45 -1.01,-2.49 -0.92,-2.51 -0.83,-2.52 -0.74,-2.57 -0.65,-2.62 -0.56,-2.68 -0.47,-2.71 -0.38,-2.77 -0.29,-2.83 -0.2,-2.93 -0.11,-3.02 -0.02,-3.27 0.03,-3.6 0.06,-4.0 0.07,-5.3 0.08,-5.3 0.095,-3.6 0.12,-3.1 0.16,-2.86 0.25,-2.31 0.34,-1.84 0.43,-1.41 0.52,-1.0 0.61,-0.65 0.7,-0.4 0.79,-0.14 0.88,0.08 0.97,0.27 1.06,0.45 1.15,0.6 1.24,0.74 1.33,0.84 1.42,0.93 1.51,1.01 1.6,1.07 1.69,1.16 1.78,1.23 1.87,1.3 1.96,1.36 2,1.38"/>
  <polyline fill="none" stroke="none" marker-start="url(#dTr)" marker-mid="url(#dTr)" marker-end="url(#dTr)"
   points="-2,-2.21 -1.91,-2.21 -1.82,-2.26 -1.73,-2.26 -1.64,-2.29 -1.55,-2.31 -1.46,-2.32 -1.37,-2.36 -1.28,-2.4 -1.19,-2.43 -1.1,-2.45 -1.01,-2.49 -0.92,-2.51 -0.83,-2.52 -0.74,-2.57 -0.65,-2.62 -0.56,-2.68 -0.47,-2.71 -0.38,-2.77 -0.29,-2.83 -0.2,-2.93 -0.11,-3.02 -0.02,-3.27 0.16,-2.86 0.25,-2.31 0.34,-1.84 0.43,-1.41 0.52,-1.0 0.61,-0.65 0.7,-0.4 0.79,-0.14 0.88,0.08 0.97,0.27 1.06,0.45 1.15,0.6 1.24,0.74 1.33,0.84 1.42,0.93 1.51,1.01 1.6,1.07 1.69,1.16 1.78,1.23 1.87,1.3 1.96,1.36"/>
 </g>
</g>
<rect x="1813" y="976" width="1024" height="747" fill="none" stroke="#000" stroke-width="3"/>
<path d="M1813,1627.3h13M1813,1531.6h13M1813,1435.9h13M1813,1340.2h13M1813,1244.5h13M1813,1148.8h13M1813,1053.1h13M1941,1723v-13M2069,1723v-13M2197,1723v-13M2325,1723v-13M2453,1723v-13M2581,1723v-13M2709,1723v-13" stroke="#000" stroke-width="3" fill="none"/>
<use href="#minor" x="1813" y="1723"/>
<use href="#minor" x="1813" y="1627.3"/>
<use href="#minor" x="1813" y="1531.6"/>
<use href="#minor" x="1813" y="1435.9"/>
<use href="#minor" x="1813" y="1340.2"/>
<use href="#minor" x="1813" y="1244.5"/>
<use href="#minor" x="1813" y="1148.8"/>
<path d="M1813,1024.3h8M1813,1007.4h8M1813,995.5h8M1813,986.2h8M1813,978.6h8" stroke="#000" stroke-width="2.5" fill="none"/>
<g font-size="54" text-anchor="end">
 <text x="1794" y="1071">10<tspan font-size="32" dy="-22">2</tspan></text>
 <text x="1794" y="1167">10<tspan font-size="32" dy="-22">1</tspan></text>
 <text x="1794" y="1263">10<tspan font-size="32" dy="-22">0</tspan></text>
 <text x="1794" y="1358">10<tspan font-size="32" dy="-22">−1</tspan></text>
 <text x="1794" y="1454">10<tspan font-size="32" dy="-22">−2</tspan></text>
 <text x="1794" y="1550">10<tspan font-size="32" dy="-22">−3</tspan></text>
 <text x="1794" y="1645">10<tspan font-size="32" dy="-22">−4</tspan></text>
 <text x="1794" y="1741">10<tspan font-size="32" dy="-22">−5</tspan></text>
</g>
<g font-size="54" text-anchor="middle">
 <text x="1813" y="1782">−2.0</text><text x="1941" y="1782">−1.5</text><text x="2069" y="1782">−1.0</text><text x="2197" y="1782">−0.5</text><text x="2325" y="1782">0</text><text x="2453" y="1782">0.5</text><text x="2581" y="1782">1.0</text><text x="2709" y="1782">1.5</text><text x="2837" y="1782">2.0</text>
</g>
<text x="2324" y="1850" font-size="55" text-anchor="middle">Voltage/V</text>
<text transform="translate(1672,1350) rotate(-90)" font-size="55" text-anchor="middle"><tspan font-style="italic">J</tspan><tspan font-size="34" dy="10">d</tspan><tspan dy="-10">/(mA·cm</tspan><tspan font-size="34" dy="-22">−2</tspan><tspan dy="22">)</tspan></text>
<text x="1877" y="1033" font-size="55" text-anchor="middle">(d)</text>
<line x1="1946" y1="1121" x2="2024" y2="1121" stroke="#000" stroke-width="4.5"/>
<rect x="1977" y="1113" width="16" height="16" fill="#000"/>
<line x1="1946" y1="1170" x2="2024" y2="1170" stroke="#1f8f68" stroke-width="4.5"/>
<circle cx="1985" cy="1170" r="8.5" fill="#3e8c6f"/>
<line x1="1946" y1="1222" x2="2024" y2="1222" stroke="#ee1848" stroke-width="4.5"/>
<circle cx="1985" cy="1222" r="8.5" fill="#f42828"/>
<line x1="1946" y1="1275" x2="2024" y2="1275" stroke="#4a40b0" stroke-width="4.5"/>
<polygon points="1985,1265 1995,1281 1975,1281" fill="#2f58b8"/>
<g font-size="55">
 <text x="2042" y="1139">Control</text>
 <text x="2042" y="1188">10% IEICO-4F</text>
 <text x="2042" y="1240">30% IEICO-4F</text>
 <text x="2042" y="1293">50% IEICO-4F</text>
</g>
</svg>
</body></html>
